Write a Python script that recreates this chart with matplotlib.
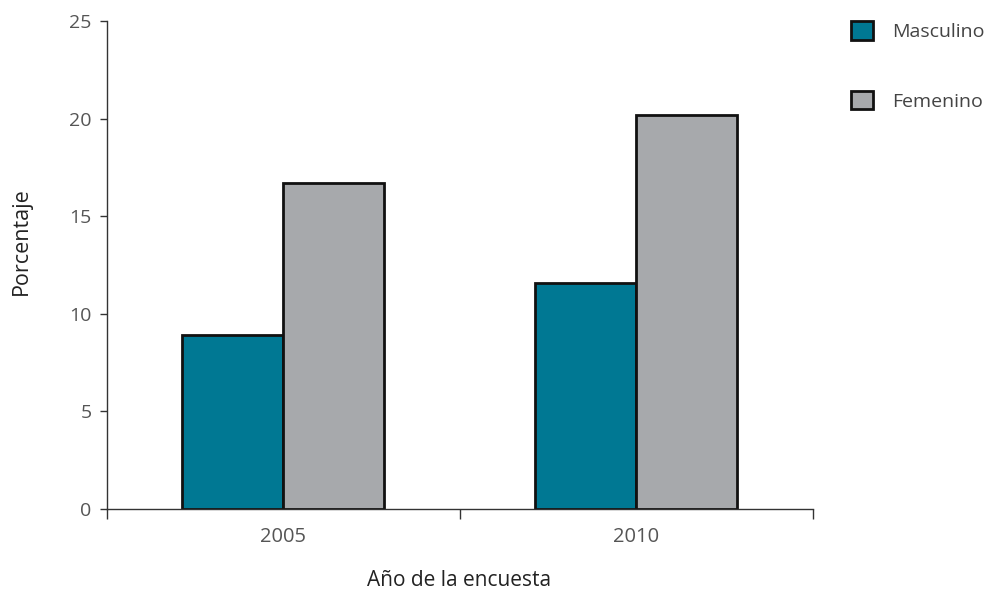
import matplotlib
matplotlib.use("Agg")
import matplotlib.pyplot as plt
import numpy as np
from matplotlib.patches import Patch

years = ["2005", "2010"]
masculino = [8.9, 11.6]
femenino = [16.7, 20.2]
series_labels = ["Masculino", "Femenino"]
colors = ["#007893", "#a7a9ac"]
yticks = [0, 5, 10, 15, 20, 25]

plt.rcParams['font.family'] = ['Open Sans', 'DejaVu Sans']

fig = plt.figure(figsize=(9.95, 5.94), dpi=100)
ax = fig.add_axes([0.1075, 0.143, 0.7095, 0.8216])

x = np.arange(len(years))
w = 0.286
ax.bar(x - w / 2, masculino, w, color=colors[0], edgecolor="#111111", linewidth=2, label=series_labels[0])
ax.bar(x + w / 2, femenino, w, color=colors[1], edgecolor="#111111", linewidth=2, label=series_labels[1])

ax.set_xlim(-0.5, len(years) - 0.5)
ax.set_ylim(0, 25)
ax.set_yticks(yticks)
ax.set_yticklabels([str(t) for t in yticks])
ax.set_xticks(x)
ax.set_xticklabels(years)
ax.set_xticks(np.arange(-0.5, len(years), 1.0), minor=True)
ax.tick_params(axis="x", which="major", length=0, pad=13, labelsize=14.5, labelcolor="#555555")
ax.tick_params(axis="x", which="minor", length=7, width=1, color="#333333", direction="out")
ax.tick_params(axis="y", length=5, width=1, color="#333333", labelsize=14, labelcolor="#555555", pad=6)

for s in ["top", "right"]:
    ax.spines[s].set_visible(False)
for s in ["left", "bottom"]:
    ax.spines[s].set_color("#333333")
    ax.spines[s].set_linewidth(1)

fig.text(459 / 995, 1 - 580 / 594, "Año de la encuesta", fontsize=15, color="#222222",
         ha="center", va="center")
fig.text(21 / 995, 1 - 241 / 594, "Porcentaje", fontsize=15.5, color="#222222",
         ha="center", va="center", rotation=90)

handles = [Patch(facecolor=colors[i], edgecolor="#111111", linewidth=2) for i in range(2)]
fig.legend(handles, series_labels, loc="upper left", bbox_to_anchor=(0.838, 0.994),
           frameon=False, fontsize=14, handlelength=1.1, handleheight=1.1,
           labelspacing=2.55, handletextpad=1.0, labelcolor="#444444")

fig.savefig("out.png", dpi=100)
